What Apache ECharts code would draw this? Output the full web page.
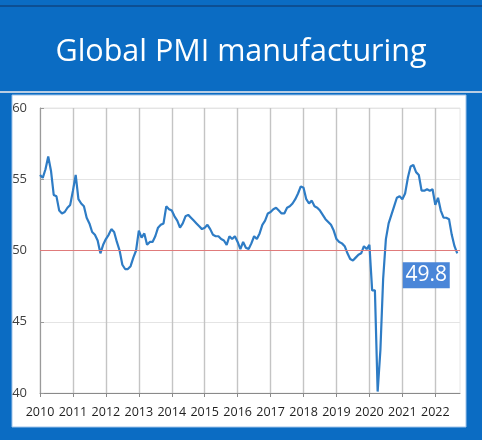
<!DOCTYPE html>
<html>
<head>
<meta charset="utf-8">
<script src="https://cdn.jsdelivr.net/npm/echarts@6/dist/echarts.min.js"></script>
<style>
html,body{margin:0;padding:0;background:#0b6cc3;}
#chart{width:482px;height:440px;}
</style>
</head>
<body>
<div id="chart"></div>
<script>
// Tick labels (years)
var years = ['2010','2011','2012','2013','2014','2015','2016','2017','2018','2019','2020','2021','2022'];
// Monthly Global PMI manufacturing, Jan 2010 .. Sep 2022
var pmi2010 = [55.3, 55.1, 55.7, 56.6, 55.6, 53.9, 53.8, 52.8, 52.6, 52.7, 53.0, 53.2];
var pmi2011 = [54.2, 55.3, 53.6, 53.3, 53.1, 52.3, 51.9, 51.3, 51.1, 50.7, 49.8, 50.4];
var pmi2012 = [50.8, 51.1, 51.5, 51.3, 50.6, 50.0, 49.0, 48.7, 48.7, 48.9, 49.5, 50.0];
var pmi2013 = [51.4, 50.9, 51.2, 50.4, 50.6, 50.6, 51.0, 51.6, 51.8, 51.9, 53.1, 52.9];
var pmi2014 = [52.8, 52.4, 52.1, 51.6, 51.9, 52.4, 52.5, 52.3, 52.1, 51.9, 51.7, 51.5];
var pmi2015 = [51.6, 51.8, 51.5, 51.1, 51.0, 51.0, 50.8, 50.7, 50.4, 51.0, 50.8, 51.0];
var pmi2016 = [50.6, 50.1, 50.6, 50.2, 50.1, 50.5, 51.0, 50.8, 51.2, 51.8, 52.1, 52.6];
var pmi2017 = [52.7, 52.9, 53.0, 52.8, 52.6, 52.6, 53.0, 53.1, 53.3, 53.6, 54.0, 54.5];
var pmi2018 = [54.4, 53.6, 53.3, 53.5, 53.1, 53.0, 52.8, 52.5, 52.2, 52.0, 51.8, 51.4];
var pmi2019 = [50.8, 50.6, 50.5, 50.3, 49.8, 49.4, 49.3, 49.5, 49.7, 49.8, 50.3, 50.1];
var pmi2020 = [50.4, 47.2, 47.2, 40.1, 43.0, 48.0, 50.8, 51.9, 52.5, 53.1, 53.7, 53.8];
var pmi2021 = [53.6, 54.0, 55.1, 55.9, 56.0, 55.5, 55.3, 54.2, 54.2, 54.3, 54.2, 54.3];
var pmi2022 = [53.2, 53.7, 52.8, 52.3, 52.3, 52.2, 51.1, 50.3, 49.8];

var pmi = [].concat(pmi2010, pmi2011, pmi2012, pmi2013, pmi2014, pmi2015, pmi2016,
  pmi2017, pmi2018, pmi2019, pmi2020, pmi2021, pmi2022);

// month categories Jan 2010 .. Oct 2022 (axis runs one month past the last value)
var categories = [];
years.forEach(function (y) {
  for (var m = 1; m <= 12; m++) categories.push(y + '-' + (m < 10 ? '0' + m : m));
});
categories = categories.slice(0, pmi.length + 1);

var lastIdx = pmi.length - 1;
var chart = echarts.init(document.getElementById('chart'));
chart.setOption({
  backgroundColor: '#0b6cc3',
  animation: false,
  graphic: [
    { type: 'rect', shape: { x: 0, y: 5, width: 482, height: 2 }, style: { fill: '#0d4f93' }, z: -10 },
    { type: 'rect', shape: { x: 0, y: 91, width: 482, height: 2 }, style: { fill: '#b9cde3' }, z: -10 },
    { type: 'rect', shape: { x: 12, y: 95, width: 454, height: 332 }, style: { fill: '#ffffff', stroke: '#9fc3ea', lineWidth: 1 }, z: -10 }
  ],
  title: {
    text: 'Global PMI manufacturing',
    left: 'center',
    top: 32,
    textStyle: { color: '#ffffff', fontSize: 30.5, fontWeight: 'normal', fontFamily: 'Open Sans' }
  },
  grid: { left: 40, right: 22, top: 108, bottom: 47, show: true, borderColor: '#e6e6e6', borderWidth: 1 },
  xAxis: {
    type: 'category',
    data: categories,
    boundaryGap: false,
    axisLine: { lineStyle: { color: '#8a8a8a', width: 1 } },
    axisTick: { show: true, interval: 11, length: 4, lineStyle: { color: '#8a8a8a' } },
    axisLabel: {
      interval: 11,
      color: '#1f1f1f',
      fontSize: 12.5,
      fontFamily: 'Open Sans',
      margin: 13,
      formatter: function (v) { return v.slice(0, 4); }
    },
    splitLine: { show: true, interval: 11, lineStyle: { color: '#c4c4c4', width: 1.4 } }
  },
  yAxis: {
    type: 'value',
    min: 40,
    max: 60,
    interval: 5,
    axisLine: { show: true, lineStyle: { color: '#9a9a9a' } },
    axisTick: { show: true, length: 4, inside: true, lineStyle: { color: '#9a9a9a' } },
    axisLabel: { color: '#404040', fontSize: 13, fontFamily: 'Open Sans', margin: 13 },
    splitLine: { show: true, lineStyle: { color: '#e4e4e4', width: 1 } }
  },
  series: [{
    type: 'line',
    data: pmi,
    symbol: 'none',
    lineStyle: { color: '#2e7cc5', width: 2.2 },
    markLine: {
      silent: true,
      symbol: 'none',
      label: { show: false },
      lineStyle: { color: '#e07b7b', width: 1.2, type: 'solid' },
      data: [{ yAxis: 50 }]
    },
    markPoint: {
      data: [{ coord: [lastIdx, pmi[lastIdx]], value: pmi[lastIdx] }],
      symbol: 'rect',
      symbolSize: [47, 26],
      symbolOffset: [-31, 22],
      itemStyle: { color: '#4a86d8' },
      label: {
        show: true,
        position: 'inside',
        color: '#ffffff',
        fontSize: 21,
        fontFamily: 'Open Sans',
        formatter: function (p) { return p.value.toFixed(1); }
      }
    }
  }]
});
</script>
</body>
</html>
